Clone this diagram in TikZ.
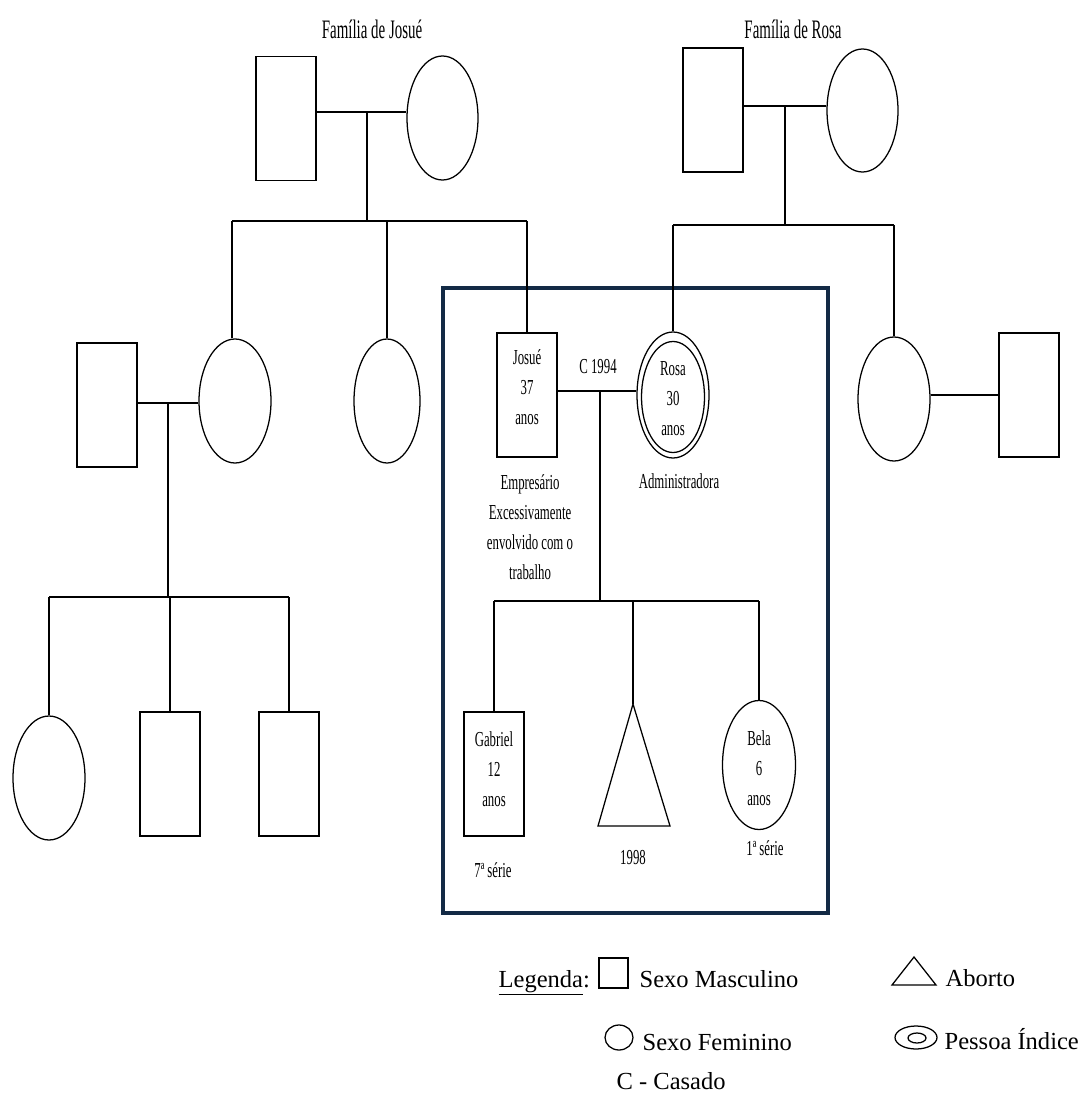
\documentclass[tikz,border=0pt]{standalone}
\usepackage{fontspec}
\setmainfont{Liberation Serif}
\newfontfamily\cond[FakeStretch=0.6]{Liberation Serif}
\newfontfamily\condt[FakeStretch=0.56]{Liberation Serif}
\usetikzlibrary{shapes.geometric}
\definecolor{boxblue}{HTML}{132A45}
\begin{document}
\begin{tikzpicture}[x=0.75pt,y=-0.75pt,
  line width=0.95pt,
  male/.style={draw,rectangle,inner sep=0pt,minimum width=60*0.75pt,minimum height=124*0.75pt},
  fem/.style={draw,ellipse,inner sep=0pt,minimum width=72*0.75pt,minimum height=124*0.75pt},
  lbl/.style={align=center,inner sep=0pt,font=\cond\fontsize{16}{22.5}\selectfont},
  ttl/.style={inner sep=0pt,font=\condt\fontsize{20}{24}\selectfont},
  leg/.style={inner sep=0pt,font=\fontsize{18.4}{22}\selectfont}]
\useasboundingbox (0,0) rectangle (1082,1095);
% ---- Josue's family
\node[ttl] (tj) at (372,29) {Família de Josué};
\node[male] (jf) at (286,118.5) {};
\node[fem,minimum width=71*0.75pt] (jm) at (442.5,118) {};
\coordinate (jmar) at (367,112);
\coordinate (jl) at (232,221);
\coordinate (jr) at (527,221);
\draw (jf.east |- jmar) -- (jm.west |- jmar);
\draw (jmar) -- (jmar |- jl);
\draw (jl) -- (jr);
\node[fem] (s1) at (235,401) {};
\node[fem,minimum width=66*0.75pt] (s2) at (387,401) {};
\draw (jl) -- (jl |- s1.north);
\draw (s2.north |- jl) -- (s2.north);
% s1 spouse and children
\node[male] (sp1) at (107,405) {};
\coordinate (m1) at (168,403);
\coordinate (gb) at (168,597);
\draw (sp1.east |- m1) -- (s1.west |- m1);
\draw (m1) -- (gb);
\node[fem] (g1) at (49,778) {};
\node[male] (g2) at (170,774) {};
\node[male] (g3) at (289,774) {};
\draw (g1.north |- gb) -- (g3.north |- gb);
\draw (g1.north |- gb) -- (g1.north);
\draw (g2.north |- gb) -- (g2.north);
\draw (g3.north |- gb) -- (g3.north);
% ---- Rosa's family
\node[ttl] (tr) at (793,29) {Família de Rosa};
\node[male] (rf) at (713,110) {};
\node[fem,minimum width=71*0.75pt,minimum height=123*0.75pt] (rm) at (862.5,110.5) {};
\coordinate (rmar) at (785,106);
\coordinate (rl) at (673,225);
\coordinate (rr) at (894,225);
\draw (rf.east |- rmar) -- (rm.west |- rmar);
\draw (rmar) -- (rmar |- rl);
\draw (rl) -- (rr);
\node[fem] (s3) at (894,399) {};
\node[male] (sp3) at (1029,395) {};
\draw (rr) -- (s3.north);
\draw (s3.east |- sp3.west) -- (sp3.west);
% ---- nuclear family box
\draw[boxblue,line width=2.3pt] (443,288) rectangle (828,913);
\node[male] (josue) at (527,395) {};
\node[lbl] (josuet) at (527,387) {Josué\\37\\anos};
\node[fem,minimum width=72*0.75pt,minimum height=126*0.75pt] (rosa) at (673,395) {};
\node[fem,minimum width=63*0.75pt,minimum height=111*0.75pt] (rosain) at (673,397) {};
\node[lbl] (rosat) at (673,399) {Rosa\\30\\anos};
\draw (jr) -- (josue.north);
\draw (rl) -- (rosa.north);
\coordinate (cm) at (600,391);
\draw (josue.east |- cm) -- (rosa.west |- cm);
\node[lbl] (c94) at (598,367) {C 1994};
\node[lbl] (emp) at (530,527) {Empresário\\Excessivamente\\envolvido com o\\trabalho};
\node[lbl] (adm) at (679,481) {Administradora};
\coordinate (cb) at (600,601);
\draw (cm) -- (cb);
\node[male] (gab) at (494,774) {};
\node[lbl] (gabt) at (494,769) {Gabriel\\12\\anos};
\node[lbl] (gabs) at (493,870) {7ª série};
\coordinate (tri) at (633,704);
\draw (tri) -- (670,826) -- (598,826) -- cycle;
\node[lbl] (aby) at (633,857) {1998};
\node[fem,minimum width=73*0.75pt,minimum height=129*0.75pt] (bela) at (759,765) {};
\node[lbl] (belat) at (759,768) {Bela\\6\\anos};
\node[lbl] (belas) at (765,848) {1ª série};
\draw (gab.north |- cb) -- (bela.north |- cb);
\draw (gab.north |- cb) -- (gab.north);
\draw (tri |- cb) -- (tri);
\draw (bela.north |- cb) -- (bela.north);
% ---- legend
\node[leg,anchor=base west] (lg) at (498,987) {\underline{Legenda}:};
\node[draw,rectangle,inner sep=0pt,minimum width=29*0.75pt,minimum height=30*0.75pt] (lsq) at (613.5,973) {};
\node[leg,anchor=base west] (lsm) at (639,987) {Sexo Masculino};
\coordinate (ltri) at (914,957);
\draw (ltri) -- (936,985) -- (892,985) -- cycle;
\node[leg,anchor=base west] (lab) at (945,986) {Aborto};
\node[draw,ellipse,inner sep=0pt,minimum width=28*0.75pt,minimum height=25*0.75pt] (lci) at (619,1037.5) {};
\node[leg,anchor=base west] (lsf) at (642,1050) {Sexo Feminino};
\node[draw,ellipse,inner sep=0pt,minimum width=42*0.75pt,minimum height=23*0.75pt] (lpi) at (916,1037.5) {};
\node[draw,ellipse,inner sep=0pt,minimum width=18*0.75pt,minimum height=10*0.75pt] (lpi2) at (917,1038) {};
\node[leg,anchor=base west] (lpt) at (944,1049) {Pessoa Índice};
\node[leg,anchor=base west] (lc) at (616,1089) {C - Casado};
\end{tikzpicture}
\end{document}
